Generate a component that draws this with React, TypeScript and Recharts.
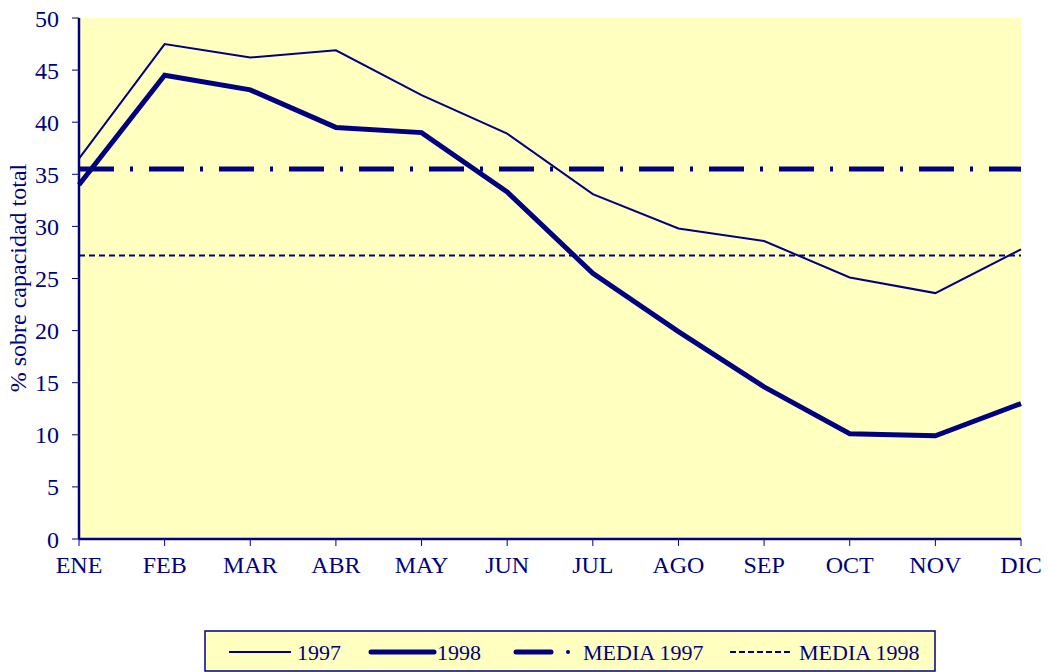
import React from 'react';
import { LineChart, Line, XAxis, YAxis, CartesianGrid, ReferenceLine, Label } from 'recharts';

const MONTHS = ['ENE', 'FEB', 'MAR', 'ABR', 'MAY', 'JUN', 'JUL', 'AGO', 'SEP', 'OCT', 'NOV', 'DIC'];
const SERIES_1997 = [36.5, 47.5, 46.2, 46.9, 42.6, 38.9, 33.1, 29.8, 28.6, 25.1, 23.6, 27.8];
const SERIES_1998 = [34.0, 44.5, 43.1, 39.5, 39.0, 33.3, 25.5, 19.9, 14.6, 10.1, 9.9, 13.0];
const MEDIA_1997 = 35.5;
const MEDIA_1998 = 27.2;
const Y_TICKS = [0, 5, 10, 15, 20, 25, 30, 35, 40, 45, 50];

const NAVY = '#000080';
const BG = '#FFFFC0';
const FONT = '"Liberation Serif", "Times New Roman", serif';

const data = MONTHS.map((m, i) => ({ month: m, y1997: SERIES_1997[i], y1998: SERIES_1998[i] }));

const tickStyle = { fill: NAVY, fontSize: 24, fontFamily: FONT };

function LegendBox() {
  return (
    <svg width={732} height={42} style={{ position: 'absolute', left: 204, top: 630 }}>
      <rect x={1} y={1} width={730} height={40} fill={BG} stroke={NAVY} strokeWidth={1.5} />
      <g fontFamily={FONT} fontSize={22} fill={NAVY}>
        <line x1={25} x2={87} y1={22} y2={22} stroke={NAVY} strokeWidth={2} />
        <text x={93} y={30}>1997</text>
        <line x1={167} x2={230} y1={22} y2={22} stroke={NAVY} strokeWidth={5} strokeLinecap="round" />
        <text x={233} y={30}>1998</text>
        <line x1={312} x2={347} y1={22} y2={22} stroke={NAVY} strokeWidth={5} strokeLinecap="round" />
        <circle cx={364} cy={22} r={2} fill={NAVY} />
        <text x={379} y={30}>MEDIA 1997</text>
        <line x1={526} x2={588} y1={22} y2={22} stroke={NAVY} strokeWidth={2} strokeDasharray="6 3" />
        <text x={595} y={30}>MEDIA 1998</text>
      </g>
    </svg>
  );
}

export default function App() {
  return (
    <div style={{ position: 'absolute', left: 0, top: 0, width: 1050, height: 672, background: '#fff' }}>
      <LineChart width={1050} height={672} data={data} margin={{ top: 18, right: 29, bottom: 83, left: 0 }}>
        <CartesianGrid horizontal={false} vertical={false} fill={BG} stroke="none" />
        <XAxis
          dataKey="month"
          interval={0}
          height={50}
          tick={tickStyle}
          tickSize={7}
          tickMargin={10}
          tickLine={{ stroke: NAVY, strokeWidth: 1 }}
          axisLine={{ stroke: NAVY, strokeWidth: 2.5 }}
        />
        <XAxis
          xAxisId="top"
          orientation="top"
          dataKey="month"
          height={0}
          tick={false}
          tickLine={false}
          axisLine={{ stroke: NAVY, strokeWidth: 2 }}
        />
        <YAxis
          width={79}
          domain={[0, 50]}
          ticks={Y_TICKS}
          interval={0}
          tick={tickStyle}
          tickSize={7}
          tickMargin={13}
          tickLine={{ stroke: NAVY, strokeWidth: 1 }}
          axisLine={{ stroke: NAVY, strokeWidth: 2.5 }}
        >
          <Label
            content={() => (
              <text
                x={26}
                y={278}
                transform="rotate(-90 26 278)"
                textAnchor="middle"
                fill={NAVY}
                fontSize={24}
                fontFamily={FONT}
              >
                % sobre capacidad total
              </text>
            )}
          />
        </YAxis>
        <YAxis
          yAxisId="right"
          orientation="right"
          width={0}
          domain={[0, 50]}
          tick={false}
          tickLine={false}
          axisLine={{ stroke: NAVY, strokeWidth: 2 }}
        />
        <ReferenceLine y={MEDIA_1997} stroke={NAVY} strokeWidth={5} strokeDasharray="35 16 3 16" />
        <ReferenceLine y={MEDIA_1998} stroke={NAVY} strokeWidth={2} strokeDasharray="6 4" />
        <Line dataKey="y1997" stroke={NAVY} strokeWidth={2} dot={false} isAnimationActive={false} />
        <Line dataKey="y1998" stroke={NAVY} strokeWidth={5} dot={false} isAnimationActive={false} />
      </LineChart>
      <LegendBox />
    </div>
  );
}
